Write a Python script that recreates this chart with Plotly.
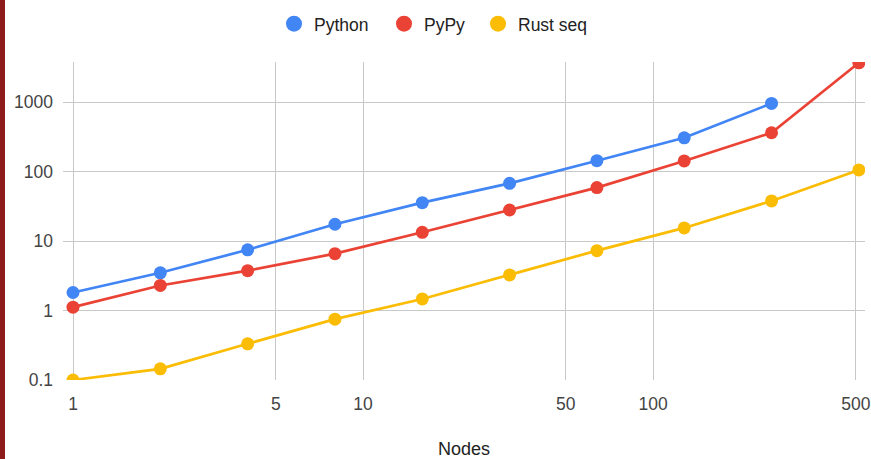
import plotly.graph_objects as go

nodes = [1, 2, 4, 8, 16, 32, 64, 128, 256, 512]
python_times = [1.82, 3.5, 7.5, 17.5, 35.8, 68, 144, 308, 964]
pypy_times = [1.12, 2.3, 3.76, 6.6, 13.4, 28.1, 59, 143, 364, 3700]
rust_seq_times = [0.1, 0.145, 0.332, 0.752, 1.47, 3.26, 7.3, 15.5, 37.9, 106]

x_ticks = [1, 5, 10, 50, 100, 500]
y_ticks = [0.1, 1, 10, 100, 1000]

# (name, x, y, colour, legend entry width)
series = [
    ("Python", nodes[:len(python_times)], python_times, "#4285F4", 65),
    ("PyPy", nodes, pypy_times, "#EA4335", 49),
    ("Rust seq", nodes, rust_seq_times, "#FBBC04", 80),
]

FONT = "Liberation Sans, Arial, sans-serif"

fig = go.Figure()
for name, xs, ys, color, _ in series:
    fig.add_trace(go.Scatter(
        x=xs, y=ys, mode="lines+markers", name=name,
        line=dict(color=color, width=2.7),
        marker=dict(color=color, size=13),
        showlegend=False,
    ))
# legend entries shown as plain dots
for name, xs, ys, color, lw in series:
    fig.add_trace(go.Scatter(
        x=[None], y=[None], mode="markers", name=name,
        marker=dict(color=color, size=18),
        legendwidth=lw,
    ))

fig.update_layout(
    width=871, height=459,
    margin=dict(l=63, r=6, t=62, b=79),
    paper_bgcolor="white", plot_bgcolor="white",
    font=dict(family=FONT, size=17, color="#444444"),
    legend=dict(
        orientation="h", x=211 / 802, xanchor="left", y=1.12, yanchor="middle",
        font=dict(size=17.5, color="#222222"),
        itemsizing="trace",
    ),
    xaxis=dict(
        type="log", range=[-0.0345, 2.7305], automargin=False,
        tickvals=x_ticks, ticktext=[str(v) for v in x_ticks],
        showgrid=True, gridcolor="#c8c8c8", gridwidth=1,
        zeroline=False, showline=False, ticks="",
        ticklabelstandoff=11,
        tickfont=dict(size=17.5, color="#444444"),
        title=dict(text="Nodes", font=dict(size=18, color="#222222"), standoff=30),
    ),
    yaxis=dict(
        type="log", range=[-1, 3.58], automargin=False,
        tickvals=y_ticks, ticktext=[str(v) for v in y_ticks],
        showgrid=True, gridcolor="#c8c8c8", gridwidth=1,
        zeroline=False, showline=False, ticks="",
        ticklabelstandoff=9,
        tickfont=dict(size=17.5, color="#444444"),
    ),
)

# dark red strip along the left edge of the page
fig.add_shape(
    type="rect", xref="paper", yref="paper",
    x0=-63 / 802, x1=-58 / 802, y0=-79 / 318, y1=1 + 62 / 318,
    fillcolor="#8e1b1b", line=dict(width=0), layer="above",
)

fig.write_html("out.html")
